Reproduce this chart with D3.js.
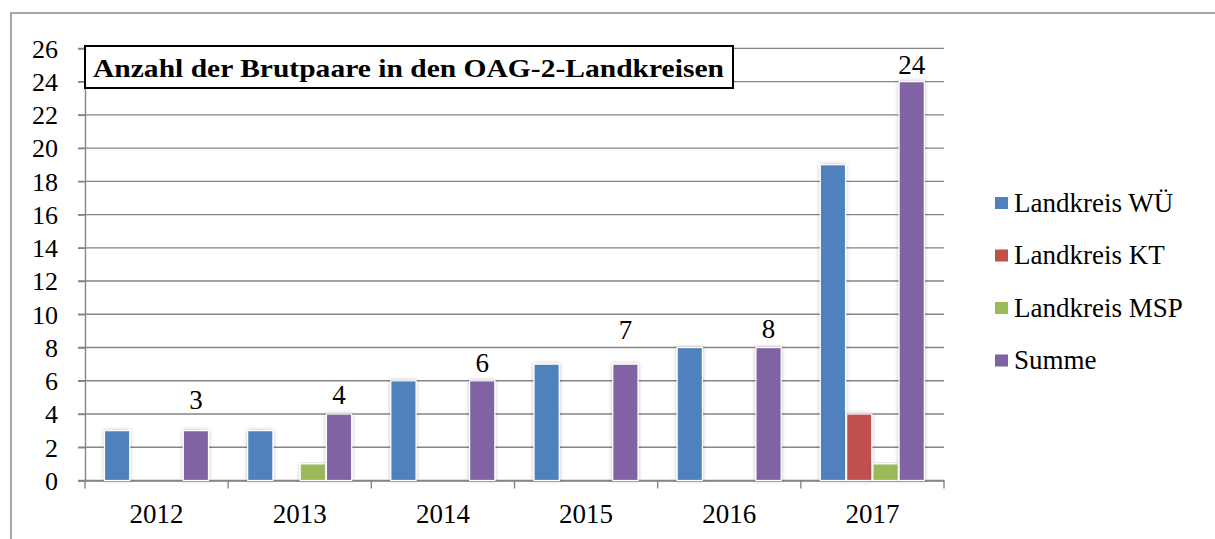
<!DOCTYPE html>
<html><head><meta charset="utf-8">
<script src="https://cdn.jsdelivr.net/npm/d3@7/dist/d3.min.js"></script>
<style>body{margin:0;background:#fff}svg{display:block}</style>
</head><body>
<svg id="c" width="1215" height="539"></svg>
<script>
const categories = ["2012","2013","2014","2015","2016","2017"];
const seriesNames = ["Landkreis WÜ","Landkreis KT","Landkreis MSP","Summe"];
const wue   = [3,3,6,7,8,19];
const kt    = [0,0,0,0,0,4];
const msp   = [0,1,0,0,0,1];
const summe = [3,4,6,7,8,24];
const sumLabelAt = [4.9,5.2,7.1,9.1,9.15,25.0]; // label centers, in value units
const yTicks = d3.range(0,27,2);
const colors = ["#4F81BD","#C0504D","#9BBB59","#8064A2"];
const title = "Anzahl der Brutpaare in den OAG-2-Landkreisen";

const seriesVals = [wue,kt,msp,summe];
const svg = d3.select("#c");
const font = "'Liberation Serif', 'Times New Roman', serif";

// outer frame
svg.append("rect").attr("x",11).attr("y",13).attr("width",1300).attr("height",600)
  .attr("fill","none").attr("stroke","#8a8a8a").attr("stroke-width",1.5);

const L=85, R=944, T=48.4, B=480.5;
const x0 = d3.scaleBand().domain(categories).range([L,R]).padding(0);
const x1 = d3.scaleBand().domain(seriesNames).range([19.5,123.5]).paddingInner(0.04);
const y = d3.scaleLinear().domain([0,26]).range([B,T]);

const defs = svg.append("defs");
const f = defs.append("filter").attr("id","sh").attr("x","-30%").attr("y","-10%").attr("width","160%").attr("height","120%");
f.append("feGaussianBlur").attr("in","SourceAlpha").attr("stdDeviation",2).attr("result","b");
f.append("feComponentTransfer").attr("in","b").attr("result","b2")
  .append("feFuncA").attr("type","linear").attr("slope",0.25);
const m = f.append("feMerge"); m.append("feMergeNode").attr("in","b2"); m.append("feMergeNode").attr("in","SourceGraphic");

// gridlines
svg.append("g").selectAll("line").data(yTicks).join("line")
  .attr("x1",L-7).attr("x2",R).attr("y1",d=>y(d)).attr("y2",d=>y(d))
  .attr("stroke","#858585").attr("stroke-width",1.4);

// y axis
const yAx = svg.append("g").attr("transform",`translate(${L},0)`)
  .call(d3.axisLeft(y).tickValues(yTicks).tickSize(7).tickPadding(20));
yAx.select(".domain").attr("stroke","#858585").attr("stroke-width",1.4);
yAx.selectAll(".tick line").attr("stroke","#858585").attr("stroke-width",1.4);
yAx.selectAll("text").attr("font-family",font).attr("font-size",26).attr("fill","#000").attr("dy","0.34em");

// x axis
const xAx = svg.append("g").attr("transform",`translate(0,${B})`)
  .call(d3.axisBottom(x0).tickSize(0).tickPadding(23));
xAx.select(".domain").attr("stroke","#858585").attr("stroke-width",1.4);
xAx.selectAll("text").attr("font-family",font).attr("font-size",27).attr("fill","#000");
const bounds = categories.map(c=>x0(c)).concat([R]);
svg.append("g").selectAll("line").data(bounds).join("line")
  .attr("x1",d=>d).attr("x2",d=>d).attr("y1",B).attr("y2",B+8)
  .attr("stroke","#858585").attr("stroke-width",1.4);

// bars
const flat = [];
categories.forEach((c,i)=>seriesNames.forEach((s,j)=>{
  if (seriesVals[j][i] > 0) flat.push({c,s,j,v:seriesVals[j][i]});
}));
svg.append("g").selectAll("rect").data(flat).join("rect")
  .attr("x",d=>x0(d.c)+x1(d.s)).attr("width",x1.bandwidth())
  .attr("y",d=>y(d.v)).attr("height",d=>B-y(d.v))
  .attr("fill",d=>colors[d.j]).attr("stroke","#fff").attr("stroke-width",1.2)
  .attr("filter","url(#sh)");

// sum labels
svg.append("g").selectAll("text").data(categories).join("text")
  .attr("x",c=>x0(c)+x1("Summe")+x1.bandwidth()/2)
  .attr("y",(c,i)=>y(sumLabelAt[i])).attr("dy","0.35em")
  .attr("text-anchor","middle").attr("font-family",font).attr("font-size",27)
  .text((c,i)=>summe[i]);

// title box
svg.append("rect").attr("x",85).attr("y",46).attr("width",648).attr("height",42)
  .attr("fill","#fff").attr("stroke","#000").attr("stroke-width",2);
const tt = svg.append("text").attr("x",0).attr("y",0)
  .attr("font-family",font).attr("font-weight","bold").attr("font-size",25).text(title);
const tw = tt.node().getComputedTextLength();
tt.attr("transform",`translate(93,77) scale(${631/tw},1)`);

// legend
const lg = svg.append("g").selectAll("g").data(seriesNames).join("g")
  .attr("transform",(d,i)=>`translate(995,${203+i*52.5})`);
lg.append("rect").attr("x",0).attr("y",-6).attr("width",13).attr("height",12)
  .attr("fill",(d,i)=>colors[i]);
lg.append("text").attr("x",19).attr("y",0).attr("dy","0.33em")
  .attr("font-family",font).attr("font-size",27).text(d=>d);
</script>
</body></html>
